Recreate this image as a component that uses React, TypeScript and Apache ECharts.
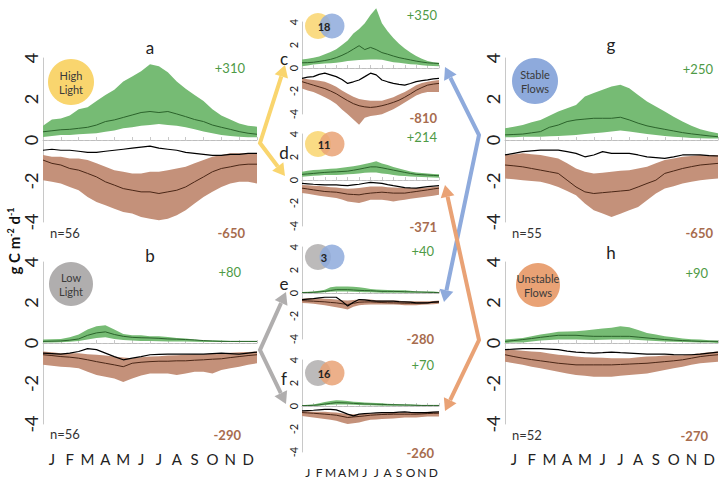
import React, { useEffect, useRef } from "react";
import * as echarts from "echarts";

// ---------- tick labels / categories ----------
const months = ["J", "F", "M", "A", "M", "J", "J", "A", "S", "O", "N", "D"];
// 25 half-month positions (Jan 1, Jan 15, Feb 1 ... Dec 31)
const halfMonths = ["0","1","2","3","4","5","6","7","8","9","10","11","12","13","14","15","16","17","18","19","20","21","22","23","24"];

// ---------- panel a (High Light) ----------
const aGU = [0.7,1.0,1.05,1.2,1.5,1.6,1.9,2.2,2.45,2.85,3.1,3.35,3.7,3.6,3.3,2.85,2.5,2.2,1.9,1.5,1.2,1.0,0.8,0.7,0.65];
const aGL = [0.15,0.2,0.25,0.25,0.28,0.3,0.33,0.4,0.46,0.57,0.62,0.69,0.73,0.78,0.73,0.69,0.62,0.52,0.41,0.33,0.25,0.2,0.16,0.13,0.13];
const aGM = [0.4,0.45,0.5,0.52,0.57,0.62,0.73,0.9,0.98,1.1,1.22,1.34,1.39,1.34,1.39,1.27,1.14,1.0,0.9,0.73,0.62,0.52,0.41,0.33,0.28];
const aNEP = [-0.5,-0.45,-0.5,-0.5,-0.55,-0.6,-0.6,-0.55,-0.5,-0.45,-0.4,-0.35,-0.3,-0.4,-0.45,-0.5,-0.6,-0.65,-0.7,-0.75,-0.75,-0.7,-0.7,-0.65,-0.65];
const aRU = [-0.73,-0.82,-0.82,-0.9,-0.9,-0.98,-1.14,-1.31,-1.47,-1.55,-1.63,-1.63,-1.55,-1.55,-1.47,-1.39,-1.31,-1.14,-0.98,-0.82,-0.73,-0.65,-0.65,-0.65,-0.65];
const aRL = [-1.96,-2.04,-2.12,-2.29,-2.45,-2.78,-3.02,-3.18,-3.35,-3.51,-3.59,-3.76,-3.84,-3.92,-3.84,-3.67,-3.43,-3.1,-2.78,-2.53,-2.29,-2.12,-2.04,-2.04,-2.12];
const aRM = [-0.98,-1.14,-1.22,-1.39,-1.47,-1.63,-1.8,-2.04,-2.2,-2.37,-2.45,-2.53,-2.53,-2.61,-2.53,-2.45,-2.29,-2.04,-1.8,-1.55,-1.39,-1.31,-1.22,-1.18,-1.18];

// ---------- panel b (Low Light) ----------
const bGU = [0.17,0.18,0.2,0.28,0.42,0.67,0.83,0.88,0.67,0.45,0.38,0.38,0.33,0.33,0.3,0.25,0.22,0.17,0.12,0.12,0.12,0.1,0.1,0.1,0.1];
const bGL = [0.03,0.03,0.04,0.06,0.1,0.17,0.25,0.28,0.2,0.15,0.12,0.1,0.1,0.09,0.08,0.08,0.07,0.06,0.05,0.05,0.05,0.05,0.05,0.05,0.05];
const bGM = [0.08,0.09,0.1,0.14,0.2,0.38,0.5,0.55,0.42,0.33,0.28,0.26,0.25,0.23,0.2,0.19,0.17,0.15,0.12,0.1,0.08,0.08,0.08,0.08,0.08];
const bNEP = [-0.5,-0.52,-0.55,-0.5,-0.42,-0.28,-0.33,-0.5,-0.67,-0.83,-0.75,-0.67,-0.58,-0.56,-0.55,-0.55,-0.55,-0.55,-0.55,-0.52,-0.5,-0.52,-0.55,-0.5,-0.45];
const bRU = [-0.42,-0.46,-0.5,-0.5,-0.5,-0.55,-0.58,-0.62,-0.67,-0.72,-0.75,-0.7,-0.67,-0.65,-0.62,-0.6,-0.58,-0.56,-0.55,-0.52,-0.5,-0.48,-0.46,-0.44,-0.42];
const bRL = [-1.08,-1.12,-1.17,-1.2,-1.25,-1.42,-1.58,-1.67,-1.75,-1.92,-1.75,-1.6,-1.5,-1.5,-1.5,-1.58,-1.5,-1.42,-1.42,-1.5,-1.33,-1.25,-1.17,-1.08,-1.0];
const bRM = [-0.58,-0.62,-0.67,-0.7,-0.75,-0.83,-0.92,-1.0,-1.08,-1.17,-1.0,-0.95,-0.92,-0.9,-0.9,-0.88,-0.88,-0.85,-0.83,-0.8,-0.78,-0.72,-0.67,-0.62,-0.58];

// ---------- panel c (High Light & Stable) ----------
const cGU = [0.75,0.8,0.9,1.0,1.2,1.4,1.64,2.0,2.4,3.0,3.4,3.9,4.6,5.2,3.9,3.2,2.6,2.1,1.7,1.35,1.05,0.8,0.6,0.5,0.45];
const cGL = [0.15,0.22,0.3,0.35,0.39,0.42,0.45,0.52,0.6,0.65,0.69,0.72,0.75,0.75,0.72,0.6,0.5,0.45,0.39,0.33,0.3,0.25,0.2,0.18,0.15];
const cGM = [0.45,0.47,0.5,0.57,0.65,0.75,0.9,1.1,1.34,1.64,1.94,1.6,1.79,1.6,1.34,1.2,1.04,0.9,0.8,0.7,0.6,0.52,0.45,0.42,0.39];
const cNEP = [-0.9,-0.8,-0.75,-0.55,-0.45,-0.6,-0.75,-1.0,-1.34,-1.2,-1.04,-0.75,-0.45,-0.6,-1.04,-1.2,-1.34,-1.42,-1.49,-1.35,-1.19,-1.1,-1.04,-0.95,-0.9];
const cRU = [-0.9,-0.97,-1.04,-1.1,-1.19,-1.4,-1.64,-1.95,-2.24,-2.5,-2.69,-2.78,-2.84,-2.84,-2.84,-2.7,-2.54,-2.3,-2.09,-1.8,-1.49,-1.3,-1.19,-1.1,-1.04];
const cRL = [-1.79,-1.95,-2.09,-2.3,-2.54,-2.8,-3.13,-3.6,-4.03,-4.48,-4.93,-4.33,-4.18,-4.1,-4.03,-3.8,-3.58,-3.3,-2.99,-2.7,-2.39,-2.2,-2.09,-2.09,-2.09];
const cRM = [-1.19,-1.34,-1.49,-1.64,-1.79,-2.0,-2.24,-2.55,-2.84,-3.1,-3.28,-3.38,-3.43,-3.38,-3.28,-3.15,-2.99,-2.8,-2.54,-2.25,-1.94,-1.7,-1.49,-1.4,-1.34];

// ---------- panel d (High Light & Unstable) ----------
const dGU = [0.71,0.8,0.86,0.9,0.94,0.97,1.0,1.07,1.14,1.2,1.29,1.4,1.51,1.63,1.43,1.3,1.14,1.0,0.86,0.75,0.66,0.6,0.57,0.52,0.49];
const dGL = [0.29,0.33,0.37,0.4,0.43,0.43,0.43,0.46,0.49,0.53,0.57,0.62,0.66,0.66,0.57,0.53,0.43,0.38,0.34,0.31,0.29,0.26,0.23,0.21,0.2];
const dGM = [0.49,0.53,0.57,0.62,0.66,0.69,0.71,0.74,0.77,0.85,0.94,1.04,1.14,1.14,1.06,0.96,0.86,0.76,0.66,0.57,0.49,0.46,0.43,0.4,0.37];
const dNEP = [-0.3,-0.33,-0.37,-0.4,-0.43,-0.43,-0.43,-0.46,-0.49,-0.43,-0.37,-0.28,-0.2,-0.25,-0.3,-0.4,-0.49,-0.57,-0.66,-0.69,-0.71,-0.64,-0.57,-0.53,-0.49];
const dRU = [-0.43,-0.46,-0.49,-0.53,-0.57,-0.62,-0.66,-0.72,-0.77,-0.73,-0.7,-0.63,-0.57,-0.57,-0.57,-0.62,-0.66,-0.68,-0.7,-0.7,-0.7,-0.68,-0.66,-0.6,-0.57];
const dRL = [-1.14,-1.2,-1.29,-1.36,-1.43,-1.5,-1.57,-1.7,-1.86,-1.93,-2.0,-1.86,-1.71,-1.71,-1.71,-1.78,-1.86,-1.78,-1.71,-1.64,-1.57,-1.5,-1.43,-1.36,-1.29];
const dRM = [-0.71,-0.78,-0.86,-0.93,-1.0,-1.03,-1.06,-1.14,-1.23,-1.26,-1.29,-1.2,-1.14,-1.1,-1.06,-1.1,-1.14,-1.14,-1.14,-1.07,-1.0,-0.93,-0.86,-0.78,-0.71];

// ---------- panel e (Low Light & Stable) ----------
const eGU = [0.09,0.11,0.14,0.2,0.29,0.49,0.57,0.57,0.57,0.55,0.51,0.43,0.34,0.3,0.29,0.26,0.23,0.23,0.23,0.2,0.14,0.14,0.14,0.12,0.09];
const eGL = [0,0,0,0.03,0.06,0.1,0.14,0.14,0.14,0.1,0.08,0.06,0.06,0.04,0.03,0.03,0.03,0.03,0.03,0.03,0.03,0.03,0.03,0.03,0.03];
const eGM = [0.03,0.04,0.06,0.1,0.14,0.22,0.29,0.29,0.29,0.26,0.23,0.21,0.2,0.17,0.14,0.14,0.14,0.13,0.11,0.1,0.09,0.08,0.06,0.05,0.03];
const eNEP = [-0.57,-0.53,-0.49,-0.43,-0.37,-0.37,-0.37,-0.71,-1.14,-0.8,-0.57,-0.6,-0.66,-0.7,-0.71,-0.71,-0.71,-0.75,-0.77,-0.8,-0.86,-0.86,-0.86,-0.8,-0.77];
const eRU = [-0.49,-0.46,-0.43,-0.46,-0.49,-0.53,-0.57,-0.62,-0.66,-0.6,-0.57,-0.57,-0.57,-0.62,-0.66,-0.66,-0.66,-0.68,-0.71,-0.71,-0.71,-0.71,-0.71,-0.69,-0.66];
const eRL = [-0.86,-0.9,-0.94,-1.0,-1.06,-1.15,-1.23,-1.33,-1.43,-1.2,-1.06,-1.03,-1.0,-1.0,-1.0,-1.0,-1.0,-1.03,-1.06,-1.06,-1.06,-1.03,-1.0,-0.97,-0.94];
const eRM = [-0.66,-0.69,-0.71,-0.74,-0.77,-0.82,-0.86,-0.93,-1.0,-0.9,-0.8,-0.78,-0.77,-0.8,-0.83,-0.85,-0.86,-0.87,-0.89,-0.89,-0.89,-0.88,-0.86,-0.8,-0.77];

// ---------- panel f (Low Light & Unstable) ----------
const fGU = [0.06,0.1,0.14,0.23,0.34,0.43,0.51,0.48,0.43,0.38,0.34,0.31,0.29,0.26,0.23,0.2,0.17,0.15,0.14,0.12,0.1,0.09,0.08,0.07,0.06];
const fGL = [0,0,0,0.03,0.06,0.1,0.14,0.14,0.14,0.1,0.08,0.06,0.06,0.04,0.03,0.03,0.03,0.03,0.03,0.03,0.03,0.03,0.03,0.03,0.03];
const fGM = [0.03,0.04,0.06,0.1,0.17,0.23,0.29,0.28,0.26,0.23,0.2,0.18,0.17,0.15,0.14,0.12,0.11,0.1,0.09,0.08,0.06,0.05,0.05,0.05,0.05];
const fNEP = [-0.43,-0.4,-0.37,-0.33,-0.29,-0.3,-0.34,-0.51,-0.71,-0.86,-0.71,-0.66,-0.63,-0.6,-0.57,-0.57,-0.57,-0.53,-0.51,-0.55,-0.57,-0.57,-0.57,-0.53,-0.51];
const fRU = [-0.43,-0.46,-0.49,-0.5,-0.51,-0.54,-0.57,-0.64,-0.71,-0.71,-0.71,-0.66,-0.63,-0.63,-0.63,-0.6,-0.57,-0.57,-0.57,-0.57,-0.57,-0.54,-0.51,-0.51,-0.51];
const fRL = [-0.86,-0.93,-1.0,-1.07,-1.14,-1.2,-1.29,-1.43,-1.57,-1.5,-1.43,-1.3,-1.2,-1.17,-1.14,-1.11,-1.09,-1.04,-1.0,-1.0,-1.0,-0.96,-0.91,-0.91,-0.91];
const fRM = [-0.57,-0.6,-0.63,-0.67,-0.71,-0.75,-0.8,-0.9,-1.0,-0.95,-0.91,-0.86,-0.8,-0.77,-0.74,-0.73,-0.71,-0.71,-0.71,-0.71,-0.71,-0.69,-0.66,-0.64,-0.63];

// ---------- panel g (Stable Flows) ----------
const gGU = [0.57,0.65,0.73,0.86,0.98,1.18,1.39,1.55,1.71,2.12,2.29,2.45,2.61,2.69,2.53,2.2,1.88,1.63,1.39,1.14,0.9,0.69,0.52,0.41,0.33];
const gGL = [0.13,0.14,0.16,0.16,0.16,0.18,0.2,0.22,0.25,0.29,0.33,0.37,0.41,0.46,0.41,0.35,0.29,0.25,0.2,0.16,0.13,0.1,0.08,0.07,0.07];
const gGM = [0.25,0.27,0.29,0.35,0.41,0.62,0.73,0.9,0.98,1.02,1.06,1.06,1.06,1.11,0.98,0.82,0.69,0.6,0.52,0.44,0.36,0.3,0.25,0.2,0.16];
const gNEP = [-0.73,-0.65,-0.57,-0.53,-0.49,-0.49,-0.49,-0.57,-0.65,-0.82,-0.73,-0.57,-0.65,-0.65,-0.65,-0.73,-0.82,-0.86,-0.9,-0.82,-0.73,-0.73,-0.73,-0.76,-0.78];
const gRU = [-0.73,-0.69,-0.65,-0.69,-0.73,-0.82,-0.9,-1.14,-1.39,-1.55,-1.63,-1.6,-1.55,-1.5,-1.47,-1.39,-1.31,-1.14,-0.98,-0.9,-0.82,-0.78,-0.73,-0.73,-0.73];
const gRL = [-1.88,-1.92,-1.96,-2.0,-2.04,-2.15,-2.29,-2.49,-2.69,-3.1,-3.43,-3.59,-3.76,-3.6,-3.43,-3.27,-2.94,-2.61,-2.37,-2.25,-2.12,-2.04,-1.96,-1.92,-1.88];
const gRM = [-1.22,-1.26,-1.31,-1.39,-1.47,-1.55,-1.63,-1.96,-2.29,-2.53,-2.61,-2.57,-2.53,-2.49,-2.45,-2.29,-2.12,-1.96,-1.63,-1.51,-1.39,-1.3,-1.22,-1.18,-1.14];

// ---------- panel h (Unstable Flows) ----------
const hGU = [0.17,0.21,0.25,0.33,0.42,0.48,0.55,0.57,0.58,0.62,0.67,0.71,0.75,0.83,0.78,0.64,0.5,0.42,0.33,0.28,0.22,0.19,0.17,0.14,0.12];
const hGL = [0,0.02,0.03,0.07,0.12,0.15,0.17,0.17,0.17,0.16,0.15,0.16,0.17,0.17,0.17,0.15,0.12,0.1,0.08,0.06,0.05,0.04,0.03,0.02,0];
const hGM = [0.08,0.12,0.17,0.22,0.28,0.33,0.38,0.38,0.38,0.35,0.33,0.33,0.33,0.33,0.33,0.29,0.25,0.21,0.17,0.14,0.12,0.1,0.08,0.08,0.08];
const hNEP = [-0.33,-0.3,-0.28,-0.28,-0.28,-0.3,-0.33,-0.4,-0.45,-0.48,-0.5,-0.48,-0.45,-0.48,-0.5,-0.52,-0.55,-0.55,-0.55,-0.57,-0.58,-0.58,-0.55,-0.5,-0.45];
const hRU = [-0.33,-0.35,-0.38,-0.42,-0.45,-0.52,-0.58,-0.62,-0.67,-0.7,-0.72,-0.73,-0.75,-0.75,-0.75,-0.7,-0.67,-0.65,-0.62,-0.61,-0.6,-0.55,-0.5,-0.46,-0.42];
const hRL = [-0.92,-1.0,-1.08,-1.17,-1.25,-1.33,-1.42,-1.5,-1.58,-1.62,-1.67,-1.67,-1.67,-1.62,-1.58,-1.54,-1.5,-1.42,-1.33,-1.25,-1.17,-1.08,-1.0,-0.96,-0.92];
const hRM = [-0.58,-0.67,-0.75,-0.82,-0.88,-0.94,-1.0,-1.04,-1.08,-1.08,-1.08,-1.08,-1.08,-1.06,-1.04,-1.02,-1.0,-0.96,-0.92,-0.88,-0.83,-0.75,-0.67,-0.62,-0.58];

// ---------- annual totals / sample sizes ----------
const gppTotals = ["+310", "+80", "+350", "+214", "+40", "+70", "+250", "+90"];
const erTotals = ["-650", "-290", "-810", "-371", "-280", "-260", "-650", "-270"];
const sampleSizes = ["n=56", "n=56", "", "", "", "", "n=55", "n=52"];
const panelLetters = ["a", "b", "c", "d", "e", "f", "g", "h"];
const overlapCounts = ["18", "11", "3", "16"];

const FONT = "Lato, 'Open Sans', sans-serif";
const C_GREEN_BAND = "#76bb74";
const C_GREEN_LINE = "#2b632b";
const C_BROWN_BAND = "#c4917a";
const C_BROWN_LINE = "#4a2616";
const C_GREEN_TXT = "#4e9a46";
const C_BROWN_TXT = "#a76c4e";
const C_YELLOW = "#f9d56e";
const C_GREY = "#b0aeae";
const C_BLUE = "#8eaadc";
const C_ORANGE = "#e9a275";
const C_AXIS = "#c8c8c8";

const panels = [
  { d: [aGU, aGL, aGM, aRU, aRL, aRM, aNEP], left: 43, top: 58, width: 214, height: 164, offset: 20, labels: false, big: true },
  { d: [bGU, bGL, bGM, bRU, bRL, bRM, bNEP], left: 43, top: 262, width: 214, height: 162, offset: 22, labels: true, big: true },
  { d: [cGU, cGL, cGM, cRU, cRL, cRM, cNEP], left: 302, top: 22, width: 137, height: 92, offset: 13, labels: false, big: false },
  { d: [dGU, dGL, dGM, dRU, dRL, dRM, dNEP], left: 302, top: 134, width: 137, height: 92, offset: 13, labels: false, big: false },
  { d: [eGU, eGL, eGM, eRU, eRL, eRM, eNEP], left: 302, top: 247, width: 137, height: 92, offset: 14, labels: false, big: false },
  { d: [fGU, fGL, fGM, fRU, fRL, fRM, fNEP], left: 302, top: 360, width: 137, height: 92, offset: 12, labels: true, big: false },
  { d: [gGU, gGL, gGM, gRU, gRL, gRM, gNEP], left: 505, top: 58, width: 213, height: 164, offset: 20, labels: false, big: true },
  { d: [hGU, hGL, hGM, hRU, hRL, hRM, hNEP], left: 505, top: 262, width: 213, height: 162, offset: 22, labels: true, big: true },
];

// positions of decorations
const totalsPos = [
  { x: 245, yTop: 68, yBot: 233 },
  { x: 241, yTop: 272, yBot: 435 },
  { x: 437, yTop: 15, yBot: 118 },
  { x: 437, yTop: 137, yBot: 227 },
  { x: 434, yTop: 251, yBot: 339 },
  { x: 434, yTop: 365, yBot: 453 },
  { x: 713, yTop: 69, yBot: 233 },
  { x: 708, yTop: 273, yBot: 436 },
];
const nPos = [
  { x: 50, y: 233 }, { x: 50, y: 434 }, null, null, null, null, { x: 512, y: 233 }, { x: 512, y: 435 },
];
const letterPos = [
  { x: 150, y: 47 }, { x: 150, y: 255 }, { x: 284, y: 58 }, { x: 284, y: 152 },
  { x: 284, y: 283 }, { x: 284, y: 378 }, { x: 611, y: 44 }, { x: 611, y: 252 },
];

function arrowEls(tipA: number[], v: number[], tipB: number[], color: string) {
  const L = 12, W = 7;
  const head = (t: number[]) => {
    const dx = t[0] - v[0], dy = t[1] - v[1];
    const len = Math.hypot(dx, dy);
    const ux = dx / len, uy = dy / len;
    const bx = t[0] - ux * L, by = t[1] - uy * L;
    return {
      base: [bx, by],
      poly: [t, [bx - uy * W, by + ux * W], [bx + uy * W, by - ux * W]],
    };
  };
  const ha = head(tipA), hb = head(tipB);
  return [
    { type: "polyline", shape: { points: [ha.base, v, hb.base] }, style: { stroke: color, lineWidth: 4, fill: null, lineJoin: "miter" }, z: 10 },
    { type: "polygon", shape: { points: ha.poly }, style: { fill: color }, z: 10 },
    { type: "polygon", shape: { points: hb.poly }, style: { fill: color }, z: 10 },
  ];
}

function bigCircle(cx: number, cy: number, r: number, fill: string, text: string) {
  return [
    { type: "circle", shape: { cx, cy, r }, style: { fill }, z: 5 },
    { type: "text", x: cx, y: cy, style: { text, align: "center", verticalAlign: "middle", fontSize: 11, fontFamily: FONT, fill: "#3a3a3a", lineHeight: 14 }, z: 6 },
  ];
}

function venn(cx: number, cy: number, c1: string, c2: string, label: string) {
  return [
    { type: "circle", shape: { cx, cy, r: 13 }, style: { fill: c1, opacity: 0.85 }, z: 5 },
    { type: "circle", shape: { cx: cx + 14, cy, r: 12.5 }, style: { fill: c2, opacity: 0.85 }, z: 5 },
    { type: "text", x: cx + 6, y: cy, style: { text: label, align: "center", verticalAlign: "middle", fontSize: 11, fontWeight: "bold", fontFamily: FONT, fill: "#222" }, z: 6 },
  ];
}

function buildOption() {
  const grid: any[] = [], xAxis: any[] = [], yAxis: any[] = [], series: any[] = [];
  panels.forEach((p, i) => {
    const [gu, gl, gm, ru, rl, rm, nep] = p.d;
    grid.push({ left: p.left, top: p.top, width: p.width, height: p.height });
    xAxis.push({
      type: "category", gridIndex: i, data: halfMonths, boundaryGap: false, position: "bottom", offset: p.offset,
      axisLine: { show: true, lineStyle: { color: C_AXIS } },
      axisTick: { show: true, inside: true, length: 3, interval: (idx: number) => idx % 2 === 0, lineStyle: { color: C_AXIS } },
      axisLabel: {
        show: p.labels, interval: (idx: number) => idx % 2 === 1,
        formatter: (v: string) => { const k = Number(v); return k % 2 === 1 ? months[(k - 1) / 2] : ""; },
        fontSize: p.big ? 15 : 12, color: "#222", fontFamily: FONT, margin: p.big ? 5 : 2,
      },
      splitLine: { show: false },
    });
    yAxis.push({
      type: "value", gridIndex: i, min: -4, max: 4, interval: 2,
      axisLine: { show: true, lineStyle: { color: C_AXIS } },
      axisTick: { show: false }, splitLine: { show: false },
      axisLabel: {
        rotate: 90, align: "center", verticalAlign: "middle",
        fontSize: p.big ? 18 : 11, color: "#222", fontFamily: FONT, margin: p.big ? 12 : 9,
      },
    });
    const base = { type: "line", xAxisIndex: i, yAxisIndex: i, symbol: "none", silent: true, clip: false, animation: false };
    series.push({ ...base, stack: "g" + i, stackStrategy: "all", data: gl, lineStyle: { width: 0, opacity: 0 } });
    series.push({ ...base, stack: "g" + i, stackStrategy: "all", data: gu.map((v, k) => +(v - gl[k]).toFixed(3)), lineStyle: { width: 0, opacity: 0 }, areaStyle: { color: C_GREEN_BAND, opacity: 1 } });
    series.push({ ...base, stack: "r" + i, stackStrategy: "all", data: rl, lineStyle: { width: 0, opacity: 0 } });
    series.push({ ...base, stack: "r" + i, stackStrategy: "all", data: ru.map((v, k) => +(v - rl[k]).toFixed(3)), lineStyle: { width: 0, opacity: 0 }, areaStyle: { color: C_BROWN_BAND, opacity: 1 } });
    series.push({ ...base, data: gm, lineStyle: { width: 1, color: C_GREEN_LINE } });
    series.push({ ...base, data: rm, lineStyle: { width: 1, color: C_BROWN_LINE } });
    series.push({
      ...base, data: nep, lineStyle: { width: 1.2, color: "#000" },
      markLine: { silent: true, symbol: "none", label: { show: false }, lineStyle: { type: "dashed", color: "#bdbdbd", width: 1 }, data: [{ yAxis: 0 }] },
    });
  });

  const graphic: any[] = [];
  // y axis title
  graphic.push({
    type: "text", x: 14, y: 241, rotation: Math.PI / 2,
    style: {
      text: "{a|g C m}{s|-2}{a| d}{s|-1}", align: "center", verticalAlign: "middle",
      rich: {
        a: { fontSize: 15, fontWeight: "bold", fontFamily: FONT, fill: "#111" },
        s: { fontSize: 9, fontWeight: "bold", fontFamily: FONT, fill: "#111", verticalAlign: "top", padding: [0, 0, 8, 0] },
      },
    },
  });
  panels.forEach((p, i) => {
    const t = totalsPos[i];
    const fs = 13;
    graphic.push({ type: "text", x: t.x, y: t.yTop, style: { text: gppTotals[i], align: "right", verticalAlign: "middle", fontSize: fs, fontFamily: FONT, fill: C_GREEN_TXT } });
    graphic.push({ type: "text", x: t.x, y: t.yBot, style: { text: erTotals[i], align: "right", verticalAlign: "middle", fontSize: fs, fontWeight: "bold", fontFamily: FONT, fill: C_BROWN_TXT } });
    const n = nPos[i];
    if (n) graphic.push({ type: "text", x: n.x, y: n.y, style: { text: sampleSizes[i], align: "left", verticalAlign: "middle", fontSize: 13, fontFamily: FONT, fill: "#333" } });
    const l = letterPos[i];
    graphic.push({ type: "text", x: l.x, y: l.y, style: { text: panelLetters[i], align: "center", verticalAlign: "middle", fontSize: 17, fontFamily: FONT, fill: "#222" } });
  });
  graphic.push(...bigCircle(71, 82, 23, C_YELLOW, "High\nLight"));
  graphic.push(...bigCircle(71, 284, 22, C_GREY, "Low\nLight"));
  graphic.push(...bigCircle(535, 81, 23, C_BLUE, "Stable\nFlows"));
  graphic.push(...bigCircle(538, 285, 22, C_ORANGE, "Unstable\nFlows"));
  graphic.push(...venn(318, 26, C_YELLOW, C_BLUE, overlapCounts[0]));
  graphic.push(...venn(318, 144, C_YELLOW, C_ORANGE, overlapCounts[1]));
  graphic.push(...venn(318, 257, C_GREY, C_BLUE, overlapCounts[2]));
  graphic.push(...venn(318, 373, C_GREY, C_ORANGE, overlapCounts[3]));
  graphic.push(...arrowEls([285, 65], [260, 143], [285, 176], C_YELLOW));
  graphic.push(...arrowEls([286, 292], [260, 350], [286, 404], C_GREY));
  graphic.push(...arrowEls([445, 67], [479, 135], [444, 302], C_BLUE));
  graphic.push(...arrowEls([445, 185], [479, 340], [445, 411], C_ORANGE));

  return {
    animation: false,
    backgroundColor: "#ffffff",
    textStyle: { fontFamily: FONT },
    grid, xAxis, yAxis, series, graphic,
  };
}

export default function App() {
  const ref = useRef<HTMLDivElement>(null);
  useEffect(() => {
    if (!ref.current) return;
    const chart = echarts.init(ref.current, undefined, { renderer: "svg" });
    chart.setOption(buildOption() as any);
    return () => chart.dispose();
  }, []);
  return <div ref={ref} style={{ position: "absolute", left: 0, top: 0, width: 727, height: 482 }} />;
}
